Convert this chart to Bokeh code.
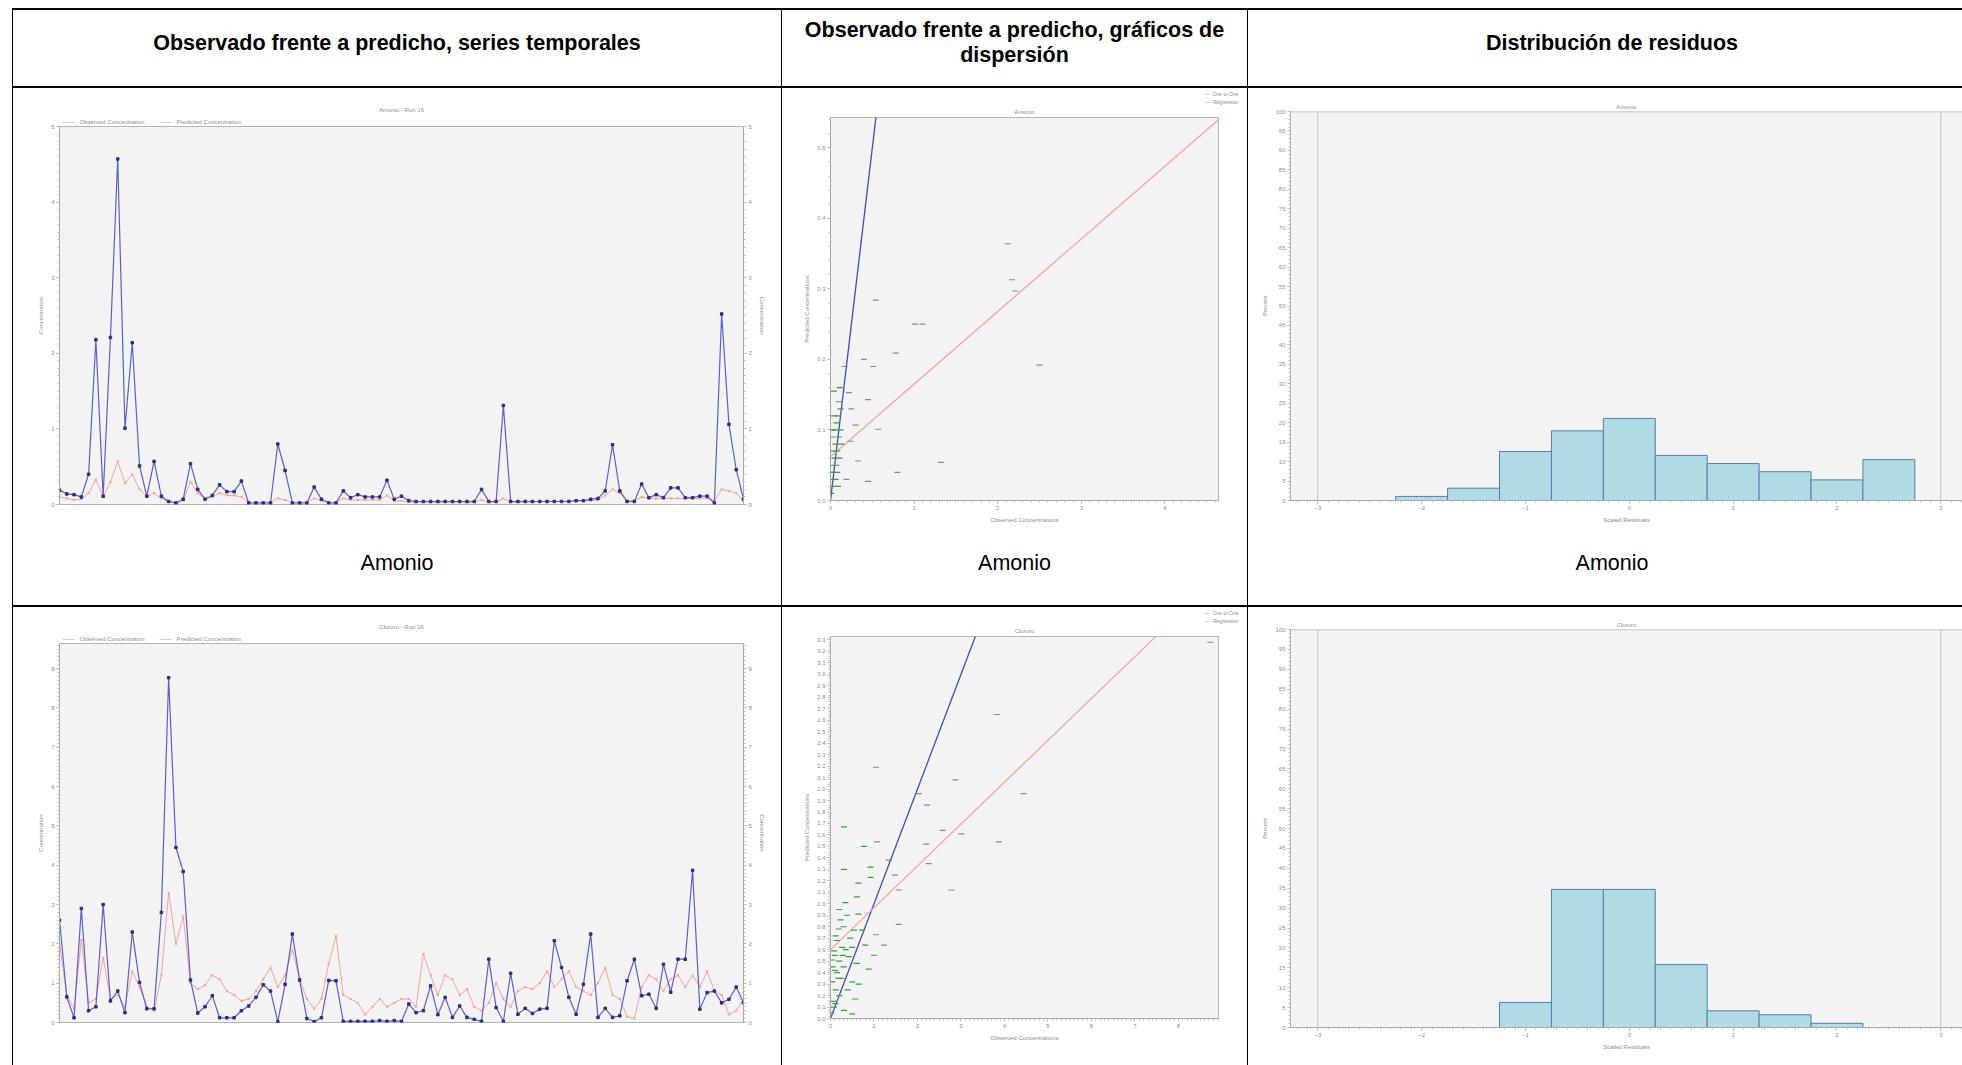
from bokeh.plotting import figure
from bokeh.models import (Div, Spacer, Range1d, LinearAxis, SingleIntervalTicker,
                          Span, NumeralTickFormatter, Title)
from bokeh.layouts import row, column
from bokeh.embed import file_html
from bokeh.resources import INLINE

# ---------------- DATA ----------------
col_headers = ["Observado frente a predicho, series temporales",
               "Observado frente a predicho, gráficos de<br>dispersión",
               "Distribución de residuos"]
row_label = "Amonio"

ts_amonio_title = "Amonio - Run 16"
ts_cloruro_title = "Cloruro - Run 16"
ts_series_names = ["Observed Concentration", "Predicted Concentration"]

ts_amonio_obs = [0.19, 0.14, 0.13, 0.10, 0.40, 2.18, 0.11, 2.21, 4.57, 1.01,
                 2.14, 0.51, 0.11, 0.57, 0.11, 0.04, 0.02, 0.07, 0.54, 0.20,
                 0.07, 0.12, 0.26, 0.17, 0.17, 0.31, 0.02, 0.02, 0.02, 0.02,
                 0.80, 0.45, 0.02, 0.02, 0.02, 0.23, 0.07, 0.02, 0.02, 0.18,
                 0.09, 0.13, 0.10, 0.10, 0.10, 0.32, 0.07, 0.11, 0.05, 0.04,
                 0.04, 0.04, 0.04, 0.04, 0.04, 0.04, 0.04, 0.04, 0.20, 0.04,
                 0.04, 1.31, 0.04, 0.04, 0.04, 0.04, 0.04, 0.04, 0.04, 0.04,
                 0.04, 0.05, 0.05, 0.07, 0.08, 0.18, 0.79, 0.18, 0.04, 0.04,
                 0.27, 0.09, 0.13, 0.09, 0.22, 0.22, 0.09, 0.09, 0.11, 0.11,
                 0.02, 2.52, 1.06, 0.46, 0.07]
ts_amonio_pred = [0.10, 0.08, 0.06, 0.07, 0.15, 0.33, 0.10, 0.30, 0.57, 0.28,
                  0.40, 0.20, 0.10, 0.15, 0.08, 0.04, 0.03, 0.05, 0.30, 0.15,
                  0.08, 0.10, 0.15, 0.12, 0.12, 0.10, 0.03, 0.03, 0.03, 0.03,
                  0.08, 0.06, 0.03, 0.03, 0.03, 0.08, 0.05, 0.03, 0.03, 0.08,
                  0.06, 0.06, 0.06, 0.06, 0.06, 0.12, 0.05, 0.05, 0.03, 0.03,
                  0.03, 0.03, 0.03, 0.03, 0.03, 0.03, 0.03, 0.03, 0.06, 0.03,
                  0.03, 0.08, 0.03, 0.03, 0.03, 0.03, 0.04, 0.04, 0.04, 0.04,
                  0.04, 0.05, 0.05, 0.05, 0.06, 0.12, 0.20, 0.15, 0.05, 0.05,
                  0.10, 0.08, 0.08, 0.08, 0.08, 0.08, 0.08, 0.08, 0.08, 0.08,
                  0.05, 0.20, 0.18, 0.15, 0.05]
ts_cloruro_obs = [2.60, 0.65, 0.12, 2.90, 0.30, 0.40, 3.00, 0.55, 0.80, 0.25,
                  2.30, 1.02, 0.35, 0.35, 2.80, 8.77, 4.45, 3.84, 1.08, 0.24,
                  0.40, 0.68, 0.12, 0.12, 0.12, 0.30, 0.42, 0.64, 0.96, 0.80,
                  0.02, 0.97, 2.25, 1.08, 0.10, 0.02, 0.12, 1.07, 1.06, 0.03,
                  0.03, 0.03, 0.03, 0.03, 0.05, 0.03, 0.05, 0.03, 0.47, 0.25,
                  0.30, 0.93, 0.20, 0.64, 0.13, 0.42, 0.13, 0.08, 0.03, 1.61,
                  0.38, 0.03, 1.25, 0.21, 0.36, 0.23, 0.34, 0.36, 2.08, 1.40,
                  0.64, 0.21, 0.97, 2.25, 0.13, 0.36, 0.13, 0.17, 1.06, 1.61,
                  0.68, 0.72, 0.36, 1.48, 0.77, 1.61, 1.61, 3.87, 0.34, 0.76,
                  0.80, 0.50, 0.59, 0.90, 0.50]
ts_cloruro_pred = [2.00, 0.70, 0.35, 2.10, 0.50, 0.60, 1.65, 0.60, 0.70, 0.40,
                   1.30, 0.90, 0.40, 0.30, 1.20, 3.30, 2.00, 2.70, 1.00, 0.85,
                   0.95, 1.20, 1.10, 0.80, 0.70, 0.55, 0.60, 0.80, 1.10, 1.40,
                   0.90, 1.20, 1.85, 1.10, 0.60, 0.35, 0.60, 1.50, 2.20, 0.70,
                   0.60, 0.50, 0.20, 0.40, 0.60, 0.40, 0.50, 0.60, 0.60, 0.40,
                   1.75, 1.20, 0.70, 1.20, 1.10, 0.70, 0.85, 0.40, 0.30, 0.50,
                   1.00, 0.60, 0.40, 0.80, 0.90, 0.85, 1.00, 1.30, 0.90, 1.10,
                   1.30, 0.90, 0.80, 0.70, 1.00, 1.40, 0.70, 0.60, 0.15, 0.10,
                   0.90, 1.20, 1.10, 0.80, 1.10, 1.20, 0.90, 1.20, 0.90, 1.30,
                   0.80, 0.70, 0.20, 0.30, 0.60]
ts_amonio_ylim = [0, 5]
ts_cloruro_ylim = [0, 9.64]

sc_amonio_title = "Amonio"
sc_cloruro_title = "Cloruro"
sc_line_names = ["One to One", "Regression"]
sc_amonio_gray_x = [2.12, 2.17, 2.21, 2.50, 1.01, 1.10, 0.54, 0.78, 0.40, 0.51,
                    0.17, 0.45, 0.57, 1.32, 0.80, 0.45, 0.33, 0.25, 0.30, 0.22,
                    0.19, 0.24]
sc_amonio_gray_y = [0.364, 0.313, 0.297, 0.192, 0.25, 0.25, 0.284, 0.209, 0.20, 0.19,
                    0.19, 0.143, 0.101, 0.054, 0.04, 0.027, 0.056, 0.13, 0.107, 0.153,
                    0.03, 0.084]
sc_amonio_green_x = [0.01, 0.02, 0.03, 0.02, 0.04, 0.05, 0.03, 0.06, 0.08, 0.05,
                     0.07, 0.10, 0.09, 0.04, 0.12, 0.10, 0.02, 0.06, 0.08, 0.11,
                     0.13, 0.01, 0.03, 0.07, 0.09, 0.04, 0.12, 0.11]
sc_amonio_green_y = [0.01, 0.03, 0.02, 0.05, 0.04, 0.06, 0.07, 0.08, 0.07, 0.10,
                     0.11, 0.09, 0.12, 0.12, 0.10, 0.14, 0.09, 0.03, 0.04, 0.06,
                     0.08, 0.04, 0.10, 0.05, 0.02, 0.155, 0.13, 0.16]
sc_amonio_reg = [0.103, 0.062]        # slope, intercept
sc_amonio_xlim = [0, 4.64]
sc_amonio_ylim = [0, 0.543]

sc_cloruro_gray_x = [8.73, 3.83, 4.44, 2.87, 1.05, 2.03, 2.22, 2.58, 3.01, 3.87,
                     2.20, 2.26, 2.78, 1.57, 1.48, 1.34, 1.07, 1.57, 1.05, 1.23,
                     1.00]
sc_cloruro_gray_y = [3.28, 2.65, 1.96, 2.08, 2.19, 1.96, 1.86, 1.64, 1.61, 1.54,
                     1.52, 1.35, 1.12, 1.12, 1.25, 1.38, 1.54, 0.82, 0.73, 0.64,
                     0.55]
sc_cloruro_green_x = [0.77, 0.31, 0.31, 0.92, 0.92, 0.64, 0.61, 0.34, 0.64, 0.38,
                      0.23, 0.54, 0.73, 0.80, 0.27, 0.42, 0.88, 0.11, 0.65, 0.50,
                      0.57, 0.50, 0.31, 0.11, 0.04, 0.08, 0.15, 0.19, 0.04, 0.05,
                      0.10, 0.20, 0.15, 0.25, 0.30, 0.12, 0.20, 0.06, 0.35, 0.45,
                      0.30, 0.20, 0.12, 0.40, 0.02, 0.08, 0.18, 0.28, 0.50, 0.60]
sc_cloruro_green_y = [1.50, 1.67, 1.30, 1.32, 1.23, 1.18, 1.06, 1.01, 0.91, 0.90,
                      0.86, 0.77, 0.77, 0.64, 0.62, 0.54, 0.43, 0.42, 0.30, 0.32,
                      0.17, 0.04, 0.07, 0.13, 0.32, 0.59, 0.68, 0.78, 0.51, 0.45,
                      0.55, 0.50, 0.40, 0.35, 0.45, 0.25, 0.20, 0.15, 0.60, 0.70,
                      0.80, 0.95, 0.72, 0.25, 0.05, 0.10, 0.35, 0.55, 0.62, 0.48]
sc_cloruro_reg = [0.365, 0.60]
sc_cloruro_xlim = [0, 8.92]
sc_cloruro_ylim = [0, 3.33]

hist_amonio_title = "Amonio"
hist_cloruro_title = "Cloruro"
hist_amonio_edges = [-2.25, -1.75, -1.25, -0.75, -0.25, 0.25, 0.75, 1.25, 1.75, 2.25, 2.75]
hist_amonio_pct = [1.05, 3.16, 12.6, 17.9, 21.1, 11.6, 9.5, 7.4, 5.3, 10.5]
hist_cloruro_edges = [-1.25, -0.75, -0.25, 0.25, 0.75, 1.25, 1.75, 2.25]
hist_cloruro_pct = [6.3, 34.7, 34.7, 15.8, 4.2, 3.2, 1.05]
hist_thresholds = [-3, 3]
hist_xlim = [-3.263, 3.209]
hist_ylim = [0, 100]

# ---------------- STYLE ----------------
FONT = "Liberation Sans"
SMALL = "6px"
TXT = "#8c8c8c"
FRAME_BG = "#f3f3f3"
AXIS = "#a8a8a8"
NB = "\u00a0"
DASH = "\u2014\u2014"


def style_axis(ax, label=None):
    ax.axis_line_color = AXIS
    ax.major_tick_line_color = AXIS
    ax.minor_tick_line_color = "#bdbdbd"
    ax.major_tick_out = 3
    ax.major_tick_in = 0
    ax.minor_tick_out = 2
    ax.minor_tick_in = 0
    ax.major_label_text_font_size = SMALL
    ax.major_label_text_color = TXT
    ax.major_label_text_font = FONT
    ax.major_label_standoff = 2
    ax.axis_label_text_font_size = SMALL
    ax.axis_label_text_color = TXT
    ax.axis_label_text_font_style = "normal"
    ax.axis_label_text_font = FONT
    ax.axis_label_standoff = 4
    if label:
        ax.axis_label = label


def small_title(text, align, offset, standoff, size=SMALL):
    return Title(text=text, align=align, offset=offset, standoff=standoff,
                 text_font_size=size, text_font=FONT, text_font_style="normal",
                 text_color=TXT)


def base_fig(w, h, xr, yr, bl, br, bt, bb, title, standoff=3):
    p = figure(width=w, height=h, x_range=Range1d(xr[0], xr[1]), y_range=Range1d(yr[0], yr[1]),
               output_backend="svg", toolbar_location=None,
               min_border_left=bl, min_border_right=br, min_border_top=bt, min_border_bottom=bb,
               background_fill_color=FRAME_BG, border_fill_color="white",
               outline_line_color="#b4b4b4")
    p.xgrid.visible = False
    p.ygrid.visible = False
    if title is None:
        p.title = None
    else:
        p.title.text = title
        p.title.align = "center"
        p.title.text_font_size = SMALL
        p.title.text_font = FONT
        p.title.text_font_style = "normal"
        p.title.text_color = TXT
        p.title.standoff = standoff
    return p


def ts_fig(obs, pred, ylim, title, h, bt, bb):
    idx = list(range(len(obs)))
    p = base_fig(768, h, [idx[0], idx[-1]], ylim, 46, 38, bt, bb, title, standoff=3)
    p.xaxis.visible = False
    p.yaxis.ticker = SingleIntervalTicker(interval=1, num_minor_ticks=10)
    style_axis(p.yaxis[0], "Concentration")
    ra = LinearAxis(ticker=SingleIntervalTicker(interval=1, num_minor_ticks=10))
    style_axis(ra, "Concentration")
    p.add_layout(ra, "right")
    p.line(idx, pred, line_color="#f3a3a0", line_width=1)
    p.scatter(idx, pred, marker="x", size=3, line_color="#ee9a8c")
    p.line(idx, obs, line_color="#5c5cd8", line_width=1.2)
    p.scatter(idx, obs, marker="square", size=2.5, fill_color="#2e2e78", line_color="#2e2e78")
    legend_text = (DASH + NB * 3 + ts_series_names[0] + NB * 9 +
                   DASH + NB * 3 + ts_series_names[1])
    p.add_layout(small_title(legend_text, "left", 3, 4), "above")
    return p


def sc_fig(gx, gy, kx, ky, reg, xlim, ylim, title, h, bl, bt, bb):
    p = base_fig(465, h, xlim, ylim, bl, 29, bt, bb, None)
    p.xaxis.ticker = SingleIntervalTicker(interval=1, num_minor_ticks=10)
    p.yaxis.ticker = SingleIntervalTicker(interval=0.1, num_minor_ticks=5)
    p.yaxis.formatter = NumeralTickFormatter(format="0.0")
    style_axis(p.xaxis[0], "Observed Concentrations")
    style_axis(p.yaxis[0], "Predicted Concentrations")
    p.line(xlim, xlim, line_color="#4646cc", line_width=1.3)
    p.line(xlim, [reg[1] + reg[0] * v for v in xlim], line_color="#f2a0a0", line_width=1.2)
    p.scatter(kx, ky, marker="dash", size=6, line_color="#8a8a8a", line_width=1.2)
    p.scatter(gx, gy, marker="dash", size=6, line_color="#3c9c3c", line_width=1.2)
    p.add_layout(small_title(title, "center", 0, 5), "above")
    p.add_layout(small_title("\u2014" + NB * 2 + sc_line_names[1], "right", -20, 0, "5px"), "above")
    p.add_layout(small_title("\u2014" + NB * 2 + sc_line_names[0], "right", -20, 0, "5px"), "above")
    return p


def hist_fig(edges, pct, title, h, bt, bb):
    p = base_fig(714, h, hist_xlim, hist_ylim, 42, 0, bt, bb, title, standoff=3)
    p.outline_line_color = None
    p.add_layout(Span(location=hist_ylim[1], dimension="width", line_color="#b4b4b4", line_width=1.5))
    for t in hist_thresholds:
        p.add_layout(Span(location=t, dimension="height", line_color="#c4c4c4", line_width=1))
    p.quad(left=edges[:-1], right=edges[1:], bottom=0, top=pct,
           fill_color="#afdce4", line_color="#5a7aa2", line_width=1)
    p.xaxis.ticker = SingleIntervalTicker(interval=1, num_minor_ticks=10)
    p.yaxis.ticker = SingleIntervalTicker(interval=5, num_minor_ticks=5)
    style_axis(p.xaxis[0], "Scaled Residuals")
    style_axis(p.yaxis[0], "Percent")
    return p


def line_div(w, h):
    return Div(text="", width=w, height=h, margin=0, styles={"background-color": "#000000"})


def text_div(txt, w, h, inner_w, pad, bold):
    weight = "bold" if bold else "normal"
    html = ('<div style="width:%dpx;text-align:center;font-family:\'Liberation Sans\',Arial,sans-serif;'
            'font-weight:%s;font-size:21.5px;line-height:25px;padding-top:%dpx;color:#000;">%s</div>'
            % (inner_w, weight, pad, txt))
    return Div(text=html, width=w, height=h, margin=0)


# ---------------- FIGURES ----------------
ts1 = ts_fig(ts_amonio_obs, ts_amonio_pred, ts_amonio_ylim, ts_amonio_title, 437, 38, 21)
ts2 = ts_fig(ts_cloruro_obs, ts_cloruro_pred, ts_cloruro_ylim, ts_cloruro_title, 458, 36, 43)
sc1 = sc_fig(sc_amonio_green_x, sc_amonio_green_y, sc_amonio_gray_x, sc_amonio_gray_y,
             sc_amonio_reg, sc_amonio_xlim, sc_amonio_ylim, sc_amonio_title, 437, 47, 29, 23)
sc2 = sc_fig(sc_cloruro_green_x, sc_cloruro_green_y, sc_cloruro_gray_x, sc_cloruro_gray_y,
             sc_cloruro_reg, sc_cloruro_xlim, sc_cloruro_ylim, sc_cloruro_title, 458, 48, 28, 47)
h1 = hist_fig(hist_amonio_edges, hist_amonio_pct, hist_amonio_title, 437, 23, 18)
h2 = hist_fig(hist_cloruro_edges, hist_cloruro_pct, hist_cloruro_title, 458, 22, 38)

widths = [768, 465, 714]
inner = [768, 465, 728]
pads = [21, 8, 21]
tops = [ts1, sc1, h1]
bots = [ts2, sc2, h2]

cols = []
for k in range(3):
    w = widths[k]
    c = column(Spacer(width=w, height=8, margin=0), line_div(w, 2),
               text_div(col_headers[k], w, 76, inner[k], pads[k], True),
               line_div(w, 2), tops[k],
               text_div(row_label, w, 80, inner[k], 26, False),
               line_div(w, 2), bots[k], spacing=0)
    cols.append(c)


def vline():
    return column(Spacer(width=1, height=8, margin=0), line_div(1, 1057), spacing=0)


root = row(Spacer(width=12, height=1065, margin=0), vline(), cols[0], vline(), cols[1],
           vline(), cols[2], spacing=0)

open("out.html", "w").write(file_html(root, INLINE, title="Observado frente a predicho"))
